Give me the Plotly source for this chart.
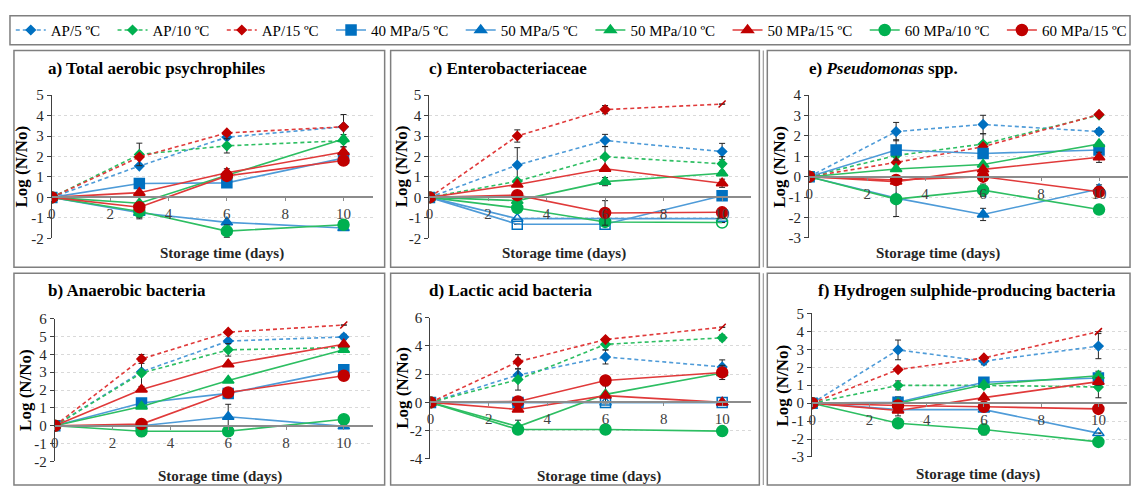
import plotly.graph_objects as go

W, H = 1135, 494
days = [0, 3, 6, 10]
series = ["AP/5 ºC", "AP/10 ºC", "AP/15 ºC", "40 MPa/5 ºC", "50 MPa/5 ºC",
          "50 MPa/10 ºC", "50 MPa/15 ºC", "60 MPa/10 ºC", "60 MPa/15 ºC"]

# values per panel, rows in the order of `series`
vals_a = [[0, 1.53, 2.94, 3.45], [0, 2.1, 2.52, 2.77], [0, 1.97, 3.15, 3.45],
          [0, 0.68, 0.71, 1.92], [0, -0.75, -1.22, -1.5], [0, -0.29, 1.08, 2.85],
          [0, 0.23, 1.2, 2.22], [0, -0.69, -1.65, -1.34], [0, -0.48, 1.05, 1.8]]
err_a = [[0, 0, 0.3, 0], [0, 0.55, 0.35, 0.3], [0, 0, 0, 0.6],
         [0, 0, 0.2, 0], [0, 0.3, 0, 0], [0, 0, 0, 0],
         [0, 0, 0.2, 0.25], [0, 0.3, 0.3, 0], [0, 0, 0, 0]]

vals_c = [[0, 1.58, 2.78, 2.24], [0, 0.79, 1.99, 1.64], [0, 3.0, 4.29, 4.56],
          [0, -1.31, -1.31, 0.08], [0, -1.04, -1.04, -1.04], [0, -0.16, 0.77, 1.18],
          [0, 0.63, 1.4, 0.69], [0, -0.52, -1.2, -1.23], [0, 0.11, -0.76, -0.73]]
err_c = [[0, 0.85, 0.3, 0.4], [0, 0, 0.5, 0.35], [0, 0.3, 0.2, 0],
         [0, 0, 0, 0], [0, 0, 0, 0], [0, 0, 0.2, 0],
         [0, 0, 0, 0.2], [0, 0, 0, 0], [0, 0, 0.6, 0]]

vals_e = [[0, 2.21, 2.56, 2.21], [0, 1.04, 1.6, 3.02], [0, 0.7, 1.47, 3.05],
          [0, 1.31, 1.14, 1.31], [0, -1.05, -1.85, -0.6], [0, 0.38, 0.6, 1.6],
          [0, -0.24, 0.36, 0.95], [0, -1.1, -0.66, -1.61], [0, -0.16, 0.0, -0.74]]
err_e = [[0, 0.45, 0.45, 0.15], [0, 0, 0.5, 0], [0, 0, 0, 0],
         [0, 0.5, 0, 0], [0, 0, 0.3, 0.2], [0, 0, 0, 0],
         [0, 0, 0, 0.25], [0, 0.85, 0.3, 0.15], [0, 0, 0, 0]]

vals_b = [[0, 3.02, 4.74, 4.97], [0, 2.95, 4.25, 4.38], [0, 3.74, 5.24, 5.64],
          [0, 1.27, 1.81, 3.13], [0, 0.0, 0.5, -0.03], [0, 1.08, 2.53, 4.25],
          [0, 2.03, 3.44, 4.56], [0, -0.31, -0.31, 0.36], [0, 0.09, 1.86, 2.8]]
err_b = [[0, 0, 0, 0.15], [0, 0.75, 0.35, 0], [0, 0.25, 0, 0],
         [0, 0, 0, 0], [0, 0, 0.7, 0], [0, 0, 0, 0],
         [0, 0, 0, 0], [0, 0.3, 0, 0], [0, 0, 0, 0]]

vals_d = [[0, 1.94, 3.22, 2.51], [0, 1.62, 4.11, 4.57], [0, 2.88, 4.45, 5.32],
          [0, 0, 0, 0], [0, 0, 0, 0], [0, -1.71, 0.57, 2.08],
          [0, -0.5, 0.48, 0.0], [0, -1.92, -1.92, -2.03], [0, 0.07, 1.55, 2.12]]
err_d = [[0, 0, 0.5, 0.5], [0, 0.75, 0.4, 0.2], [0, 0.5, 0, 0],
         [0, 0, 0, 0], [0, 0, 0, 0], [0, 0.45, 0.6, 0],
         [0, 0, 0, 0], [0, 0, 0, 0], [0, 0, 0, 0.5]]

vals_f = [[0, 2.97, 2.34, 3.18], [0, 0.99, 0.99, 0.9], [0, 1.87, 2.52, 3.99],
          [0, 0.05, 1.17, 1.4], [0, -0.36, -0.36, -1.67], [0, 0.0, 1.03, 1.53],
          [0, -0.41, 0.31, 1.2], [0, -1.12, -1.47, -2.16], [0, -0.13, -0.2, -0.32]]
err_f = [[0, 0.55, 0.2, 0.7], [0, 0.25, 0, 0.6], [0, 0, 0, 0],
         [0, 0.3, 0, 0], [0, 0, 0, 0], [0, 0, 0, 0.25],
         [0, 0.3, 0, 0.2], [0, 0, 0.3, 0], [0, 0, 0, 0]]

# (series index, point index) drawn with open markers
open_c = [(3, 1), (3, 2), (4, 1), (4, 2), (4, 3), (7, 3)]
open_d = [(3, 2), (3, 3), (4, 2), (4, 3)]
open_f = [(4, 3)]
# panels whose AP/15 day-10 point uses the "exceeded" marker
broken_panels = ["b", "c", "d", "f"]

titles = {"a": "a) Total aerobic psychrophiles", "c": "c) Enterobacteriaceae",
          "e": "e) <i>Pseudomonas</i> spp.", "b": "b) Anaerobic bacteria",
          "d": "d) Lactic acid bacteria", "f": "f) Hydrogen sulphide-producing bacteria"}
yticks = {"a": [-2, -1, 0, 1, 2, 3, 4, 5], "c": [-2, -1, 0, 1, 2, 3, 4, 5],
          "e": [-3, -2, -1, 0, 1, 2, 3, 4], "b": [-2, -1, 0, 1, 2, 3, 4, 5, 6],
          "d": [-4, -2, 0, 2, 4, 6], "f": [-3, -2, -1, 0, 1, 2, 3, 4, 5]}
xticks = [0, 2, 4, 6, 8, 10]

# ---------------- styling / layout (pixels) ----------------
line_col = {"b": "#4E9BD8", "g": "#2DBE62", "r": "#E03A3A"}
mark_col = {"b": "#0070C0", "g": "#00B050", "r": "#C00000"}
s_col = ["b", "g", "r", "b", "b", "g", "r", "g", "r"]
s_sym = ["diamond", "diamond", "diamond", "square", "triangle-up",
         "triangle-up", "triangle-up", "circle", "circle"]
s_size = [7, 7, 7, 10, 10, 10, 10, 11, 11]

panels = {
    # key: (values, errors, open points, x-px domain, y-px top, y-px bottom, frame px)
    "a": (vals_a, err_a, [], (48, 370), 90, 238, (10, 44, 382, 268)),
    "c": (vals_c, err_c, open_c, (427, 750), 90, 238, (388, 44, 758, 268)),
    "e": (vals_e, err_e, [], (808, 1128), 90, 237.6, (766, 44, 1130, 268)),
    "b": (vals_b, err_b, [], (51, 370), 321, 468.6, (10, 274, 382, 493)),
    "d": (vals_d, err_d, open_d, (428, 750), 320, 466, (388, 274, 758, 493)),
    "f": (vals_f, err_f, open_f, (811, 1127), 315.7, 464, (766, 274, 1130, 493)),
}
title_pos = {"a": (42, 63), "c": (424, 63), "e": (806, 63),
             "b": (42, 292), "d": (424, 292), "f": (815, 292)}
xlab_pos = {"a": (219, 254), "c": (562, 254), "e": (937, 254),
            "b": (217, 484), "d": (597, 484), "f": (977, 482)}
ylab_x = {"a": 18, "c": 399, "e": 778, "b": 21, "d": 400, "f": 781}

SERIF = "Times New Roman"
fig = go.Figure()
layout = {}
annotations = []
shapes = []

for k, key in enumerate(["a", "c", "e", "b", "d", "f"]):
    vals, errs, opens, (xl, xr), ytop, ybot, frame = panels[key]
    idx = "" if k == 0 else str(k + 1)
    ax, ay = "x" + idx, "y" + idx
    ymin, ymax = yticks[key][0], yticks[key][-1]
    d0, d1 = 1 - ybot / H, 1 - ytop / H
    zero_pos = d0 + (0 - ymin) / (ymax - ymin) * (d1 - d0)
    layout["xaxis" + idx] = dict(
        domain=[xl / W, xr / W], range=[0, 11.0], anchor="free", position=zero_pos,
        tickvals=xticks, ticktext=[str(v) for v in xticks],
        showline=True, linecolor="#8C8C8C", linewidth=2,
        ticks="outside", ticklen=3, tickcolor="#8C8C8C", showgrid=False, zeroline=False,
        tickfont=dict(family=SERIF, size=15, color="#404040"), fixedrange=True)
    layout["yaxis" + idx] = dict(
        domain=[d0, d1], range=[ymin, ymax], anchor=ax, tickvals=yticks[key],
        ticktext=[str(v) for v in yticks[key]],
        showline=True, linecolor="#404040", linewidth=1.3, ticks="outside", ticklen=4,
        tickcolor="#404040", showgrid=True, gridcolor="#D9D9D9", griddash="dot",
        zeroline=False, tickfont=dict(family=SERIF, size=15, color="#262626"))
    for i, name in enumerate(series):
        syms = []
        for j in range(len(days)):
            s = s_sym[i]
            if (i, j) in opens:
                s = s + "-open"
            if i == 2 and j == 3 and key in broken_panels:
                s = "line-ne-open"
            syms.append(s)
        e = [v if v else None for v in errs[i]]
        pad = "\u00a0\u00a0" if i < len(series) - 1 else ""
        fig.add_trace(go.Scatter(
            x=days, y=vals[i], xaxis=ax, yaxis=ay, name=name + pad,
            legendgroup=name, showlegend=(k == 0), mode="lines+markers",
            line=dict(color=line_col[s_col[i]], width=1.6,
                      dash="4px,3px" if i < 3 else "solid"),
            marker=dict(symbol=syms, size=s_size[i], color=mark_col[s_col[i]],
                        line=dict(width=1.5, color=mark_col[s_col[i]])),
            error_y=dict(type="data", array=e, visible=True, color="#262626",
                         thickness=1, width=3)))
    tx, ty = title_pos[key]
    annotations.append(dict(text="<b>" + titles[key] + "</b>", x=tx / W, y=1 - ty / H,
                            xref="paper", yref="paper", xanchor="left", yanchor="middle",
                            showarrow=False, font=dict(family=SERIF, size=17, color="black")))
    lx, ly = xlab_pos[key]
    annotations.append(dict(text="<b>Storage time (days)</b>", x=lx / W, y=1 - ly / H,
                            xref="paper", yref="paper", xanchor="center", yanchor="middle",
                            showarrow=False, font=dict(family=SERIF, size=15, color="#262626")))
    annotations.append(dict(text="<b>Log (N/No)</b>", x=ylab_x[key] / W,
                            y=(d0 + d1) / 2, xref="paper", yref="paper", textangle=-90,
                            xanchor="center", yanchor="middle", showarrow=False,
                            font=dict(family=SERIF, size=17, color="black")))
    fx0, fy0, fx1, fy1 = frame
    shapes.append(dict(type="rect", xref="paper", yref="paper", x0=fx0 / W, x1=fx1 / W,
                       y0=1 - fy1 / H, y1=1 - fy0 / H,
                       line=dict(color="#7F7F7F", width=1.5)))
    if key in ("e", "f"):
        shapes.append(dict(type="line", xref="paper", yref="paper", x0=762 / W, x1=762 / W,
                           y0=1 - fy1 / H, y1=1 - fy0 / H,
                           line=dict(color="#9A9A9A", width=1.2)))

shapes.append(dict(type="rect", xref="paper", yref="paper", x0=6 / W, x1=1130 / W,
                   y0=1 - 38 / H, y1=1 - 8 / H, line=dict(color="#7F7F7F", width=1.5)))

fig.update_layout(
    width=W, height=H, margin=dict(l=0, r=0, t=0, b=0),
    paper_bgcolor="white", plot_bgcolor="white",
    font=dict(family=SERIF),
    showlegend=True,
    legend=dict(orientation="h", x=0.006, y=1 - 23 / H, xanchor="left", yanchor="middle",
                font=dict(family=SERIF, size=15, color="black"), itemwidth=30,
                tracegroupgap=0, bgcolor="rgba(0,0,0,0)"),
    annotations=annotations, shapes=shapes, **layout)

fig.write_html("out.html", config={"displayModeBar": False},
               post_script="document.body.style.margin='0';")
